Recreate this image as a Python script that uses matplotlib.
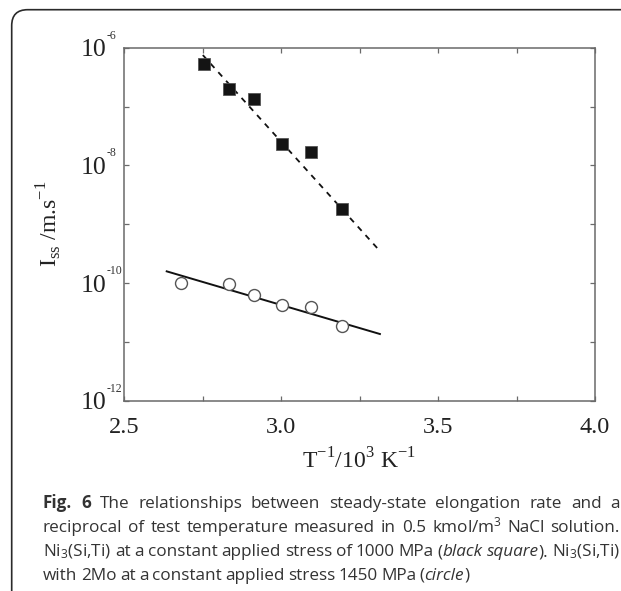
import matplotlib
matplotlib.use("Agg")
import matplotlib.pyplot as plt
from matplotlib.patches import FancyBboxPatch
from matplotlib.transforms import IdentityTransform, blended_transform_factory, offset_copy

# Data (1/T in 10^-3 K^-1, rate in m/s)
inv_temp_sq = [2.755, 2.833, 2.915, 3.003, 3.096, 3.195]
rate_sq = [5.3e-7, 2.0e-7, 1.34e-7, 2.28e-8, 1.71e-8, 1.81e-9]
inv_temp_circ = [2.681, 2.833, 2.915, 3.003, 3.096, 3.195]
rate_circ = [9.9e-11, 9.5e-11, 6.3e-11, 4.2e-11, 3.96e-11, 1.88e-11]

# Fitted lines (end points)
fit_sq_x = [2.751, 3.307]
fit_sq_y = [7.5e-7, 3.9e-10]
fit_circ_x = [2.636, 3.315]
fit_circ_y = [1.58e-10, 1.36e-11]

x_ticks = [2.5, 3.0, 3.5, 4.0]
x_tick_labels = ["2.5", "3.0", "3.5", "4.0"]
x_minor = [2.75, 3.25, 3.75]
y_ticks = [1e-12, 1e-10, 1e-8, 1e-6]
y_exps = ["-12", "-10", "-8", "-6"]
y_minor = [1e-11, 1e-9, 1e-7]

# caption: each line is a list of words, each word a list of (text, style, weight) parts
R, I, B = ("normal", "normal"), ("italic", "normal"), ("normal", "bold")
NI3 = r"$\mathregular{Ni_3}$(Si,Ti)"


def words(text, kind=R):
    return [[(w, *kind)] for w in text.split(" ")]


caption_lines = [
    [[("Fig.", *B)], [("6", *B)]] + words("The relationships between steady-state elongation rate and a"),
    words("reciprocal of test temperature measured in 0.5")
    + [[(r"kmol/m$\mathregular{^3}$", *R)]] + words("NaCl solution."),
    [[(NI3, *R)]] + words("at a constant applied stress of 1000 MPa")
    + [[("(", *R), ("black", *I)], [("square", *I), (").", *R)], [(NI3, *R)]],
    words("with 2Mo at a constant applied stress 1450 MPa") + [[("(", *R), ("circle", *I), (")", *R)]],
]
justified = [True, True, True, False]

W, H = 621, 591
SERIF = "Liberation Serif"
AXIS_GRAY = "#6a6a6a"

fig = plt.figure(figsize=(W / 100, H / 100), dpi=100)
ax = fig.add_axes([124 / W, 1 - 400.7 / H, 471 / W, 353 / H])

ax.plot(fit_sq_x, fit_sq_y, color="#111111", lw=1.3, linestyle=(0, (3.2, 3.2)))
ax.plot(fit_circ_x, fit_circ_y, color="#111111", lw=1.4)
ax.plot(inv_temp_sq, rate_sq, linestyle="none", marker="s", markersize=8.6,
        markerfacecolor="#141414", markeredgecolor="#555555", markeredgewidth=0.6)
ax.plot(inv_temp_circ, rate_circ, linestyle="none", marker="o", markersize=8.6,
        markerfacecolor="white", markeredgecolor="#555555", markeredgewidth=1.0)

ax.set_yscale("log")
ax.set_xlim(2.5, 4.0)
ax.set_ylim(1e-12, 1e-6)

ax.set_xticks(x_ticks)
ax.set_xticklabels(x_tick_labels)
ax.set_xticks(x_minor, minor=True)
ax.set_yticks(y_ticks)
ax.set_yticklabels(["10"] * len(y_ticks))
ax.set_yticks(y_minor, minor=True)
ax.yaxis.set_minor_formatter(plt.NullFormatter())

for spine in ax.spines.values():
    spine.set_color(AXIS_GRAY)
    spine.set_linewidth(1.1)

ax.tick_params(which="both", direction="in", top=True, right=True,
               length=3.5, width=0.9, color=AXIS_GRAY)
ax.tick_params(axis="x", which="major", pad=12, labelsize=17.5, labelcolor="#222222")
ax.tick_params(axis="y", which="major", pad=13, labelsize=18.5, labelcolor="#222222")
for lab in ax.get_xticklabels() + ax.get_yticklabels():
    lab.set_fontfamily(SERIF)

# small superscript exponents next to the "10" tick labels
sup_trans = offset_copy(blended_transform_factory(ax.transAxes, ax.transData),
                        fig=fig, x=-17, y=12, units="dots")
for val, ex in zip(y_ticks, y_exps):
    ax.text(0, val, ex, transform=sup_trans, ha="left", va="center",
            fontsize=8.5, family=SERIF, color="#333333", clip_on=False)

ax.set_xlabel(r"T$^{\mathregular{-1}}$/10$^{\mathregular{3}}$ K$^{\mathregular{-1}}$", family=SERIF,
              fontsize=17, color="#222222", labelpad=7)
ax.set_ylabel(r"I$_{\mathregular{ss}}$ /m.s$^{\mathregular{-1}}$", family=SERIF,
              fontsize=17, color="#222222")
ax.yaxis.set_label_coords(-0.127, 0.5)

# rounded frame around the figure
frame = FancyBboxPatch((11.7, -40), 800, 621.3, boxstyle="round,pad=0,rounding_size=16",
                       transform=IdentityTransform(), facecolor="none",
                       edgecolor="#2a2a2a", linewidth=1.2)
fig.add_artist(frame)

# caption, justified between x=43 and x=620
renderer = fig.canvas.get_renderer()
cap_size = 12.3
left_px, right_px = 43, 620
space_px = cap_size * 0.28
line_y = [503, 527.5, 551.5, 575]


def part_text(x, y, txt, style, weight):
    return fig.text(x / W, 1 - y / H, txt, family="Open Sans", fontsize=cap_size,
                    fontstyle=style, fontweight=weight, color="#333333",
                    ha="left", va="baseline")


for line, y, just in zip(caption_lines, line_y, justified):
    placed = []
    for word in line:
        parts = []
        for txt, style, weight in word:
            t = part_text(0, y + 5, txt, style, weight)
            parts.append((t, t.get_window_extent(renderer).width))
        placed.append(parts)
    total = sum(w for parts in placed for _, w in parts)
    gap = (right_px - left_px - total) / (len(placed) - 1) if just else space_px
    x = left_px
    for parts in placed:
        for t, w in parts:
            t.set_x(x / W)
            x += w
        x += gap

fig.savefig("out.png", dpi=100)
